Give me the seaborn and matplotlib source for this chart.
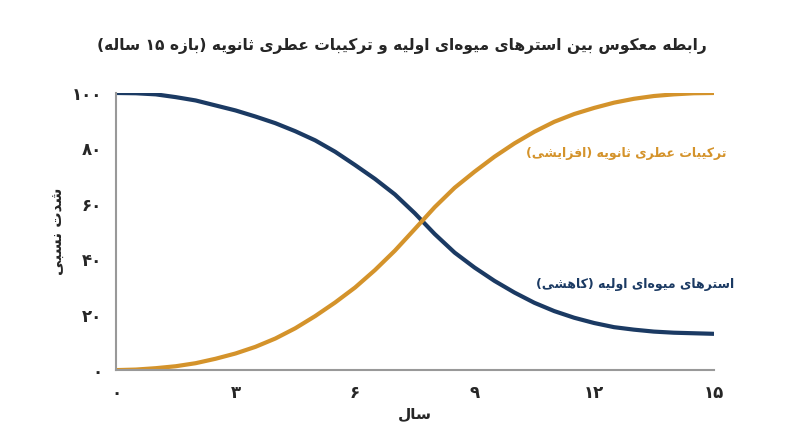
import re

import pandas as pd
import matplotlib
matplotlib.use("Agg")
import matplotlib.pyplot as plt
import seaborn as sns

# داده‌ها (خوانده شده از نمودار، هر نیم سال)
years = [0, 0.5, 1, 1.5, 2, 2.5, 3, 3.5, 4, 4.5, 5, 5.5, 6, 6.5, 7, 7.5,
         8, 8.5, 9, 9.5, 10, 10.5, 11, 11.5, 12, 12.5, 13, 13.5, 14, 14.5, 15]
esters = [100, 99.9, 99.5, 98.5, 97.3, 95.5, 93.7, 91.5, 89.1, 86.2, 82.9, 78.8, 74.0, 69.0, 63.4, 56.6,
          49.1, 42.4, 37.0, 32.2, 28.0, 24.3, 21.3, 18.9, 17.0, 15.5, 14.6, 13.9, 13.5, 13.3, 13.1]
aromatics = [0, 0.2, 0.7, 1.4, 2.5, 4.1, 6.0, 8.4, 11.4, 15.1, 19.5, 24.4, 29.8, 36.1, 43.1, 50.9,
             58.8, 65.8, 71.6, 77.0, 81.8, 86.0, 89.6, 92.4, 94.6, 96.5, 97.9, 98.9, 99.5, 99.9, 100]

title_text = "رابطه معکوس بین استرهای میوه‌ای اولیه و ترکیبات عطری ثانویه (بازه ۱۵ ساله)"
xlabel_text = "سال"
ylabel_text = "شدت نسبی"
esters_label = "استرهای میوه‌ای اولیه (کاهشی)"
aromatics_label = "ترکیبات عطری ثانویه (افزایشی)"
x_ticks = [0, 3, 6, 9, 12, 15]
y_ticks = [0, 20, 40, 60, 80, 100]

BLUE = "#1b3a63"
ORANGE = "#d4932b"
GREY = "#999999"

# matplotlib حروف عربی را به هم نمی‌چسباند، پس فرم‌های نمایشی را دستی می‌سازیم
# (isolated, final, initial, medial)
FORMS = {
    "ا": ("\uFE8D", "\uFE8E", None, None),
    "ب": ("\uFE8F", "\uFE90", "\uFE91", "\uFE92"),
    "ت": ("\uFE95", "\uFE96", "\uFE97", "\uFE98"),
    "ث": ("\uFE99", "\uFE9A", "\uFE9B", "\uFE9C"),
    "د": ("\uFEA9", "\uFEAA", None, None),
    "ر": ("\uFEAD", "\uFEAE", None, None),
    "ز": ("\uFEAF", "\uFEB0", None, None),
    "س": ("\uFEB1", "\uFEB2", "\uFEB3", "\uFEB4"),
    "ش": ("\uFEB5", "\uFEB6", "\uFEB7", "\uFEB8"),
    "ط": ("\uFEC1", "\uFEC2", "\uFEC3", "\uFEC4"),
    "ع": ("\uFEC9", "\uFECA", "\uFECB", "\uFECC"),
    "ف": ("\uFED1", "\uFED2", "\uFED3", "\uFED4"),
    "ل": ("\uFEDD", "\uFEDE", "\uFEDF", "\uFEE0"),
    "م": ("\uFEE1", "\uFEE2", "\uFEE3", "\uFEE4"),
    "ن": ("\uFEE5", "\uFEE6", "\uFEE7", "\uFEE8"),
    "ه": ("\uFEE9", "\uFEEA", "\uFEEB", "\uFEEC"),
    "و": ("\uFEED", "\uFEEE", None, None),
    "ی": ("\uFBFC", "\uFBFD", "\uFBFE", "\uFBFF"),
    "ک": ("\uFB8E", "\uFB8F", "\uFB90", "\uFB91"),
}


def dual(c):
    return c in FORMS and FORMS[c][2] is not None


def fa(text):
    out = []
    for i, c in enumerate(text):
        if c not in FORMS:
            out.append(c)
            continue
        prev = text[i - 1] if i > 0 else ""
        nxt = text[i + 1] if i + 1 < len(text) else ""
        to_prev = dual(prev)
        to_next = dual(c) and nxt in FORMS
        iso, fin, ini, med = FORMS[c]
        if to_prev and to_next:
            out.append(med)
        elif to_prev:
            out.append(fin)
        elif to_next:
            out.append(ini)
        else:
            out.append(iso)
    s = "".join(out).replace("\u200c", "")[::-1]
    s = re.sub("[۰-۹0-9]+", lambda m: m.group(0)[::-1], s)
    return s.translate(str.maketrans("()", ")("))


def fa_num(n):
    return str(n).translate(str.maketrans("0123456789", "۰۱۲۳۴۵۶۷۸۹"))


sns.set_style("white")
plt.rcParams["font.family"] = ["DejaVu Sans"]

df = pd.DataFrame({"year": years, "esters": esters, "aromatics": aromatics})

fig, ax = plt.subplots(figsize=(8, 4.47), dpi=100)
fig.subplots_adjust(left=0.145, right=0.892, top=0.792, bottom=0.172)

sns.lineplot(data=df, x="year", y="esters", color=BLUE, linewidth=3, ax=ax)
sns.lineplot(data=df, x="year", y="aromatics", color=ORANGE, linewidth=3, ax=ax)

ax.set_xlim(0, 15)
ax.set_ylim(0, 100)
ax.set_xticks(x_ticks)
ax.set_yticks(y_ticks)
ax.set_xticklabels([fa_num(t) for t in x_ticks], fontsize=12, fontweight="bold")
ax.set_yticklabels([fa_num(t) for t in y_ticks], fontsize=12, fontweight="bold")
ax.tick_params(direction="in", length=7.5, width=1, color=GREY, pad=10)

for side in ["top", "right"]:
    ax.spines[side].set_visible(False)
for side in ["left", "bottom"]:
    ax.spines[side].set_color(GREY)
    ax.spines[side].set_linewidth(1.5)

ax.set_xlabel(fa(xlabel_text), fontsize=11, fontweight="bold", labelpad=3)
ax.set_ylabel(fa(ylabel_text), fontsize=11, fontweight="bold", labelpad=4)

ax.text(15.32, 78.3, fa(aromatics_label), color=ORANGE, fontsize=9,
        fontweight="bold", ha="right", va="center", clip_on=False)
ax.text(15.52, 30.9, fa(esters_label), color=BLUE, fontsize=9,
        fontweight="bold", ha="right", va="center", clip_on=False)

fig.suptitle(fa(title_text), x=0.502, y=0.915, fontsize=11.2, fontweight="bold")

fig.savefig("out.png", dpi=100, facecolor="white")
